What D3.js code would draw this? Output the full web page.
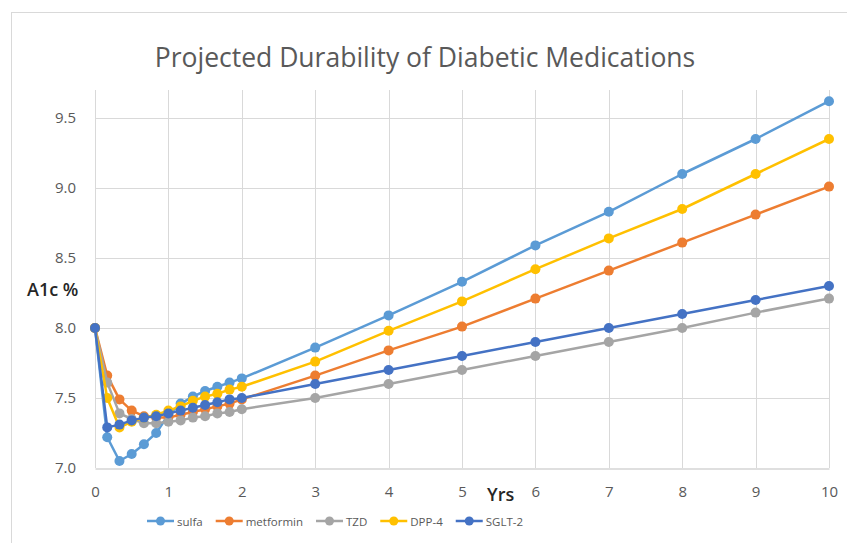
<!DOCTYPE html>
<html>
<head>
<meta charset="utf-8">
<script src="https://cdn.jsdelivr.net/npm/d3@7"></script>
<style>
  body { margin: 0; background: #fff; }
  text { font-family: "Open Sans", "Liberation Sans", sans-serif; }
</style>
</head>
<body>
<div id="chart"></div>
<script>
// Years: every two months for the first two years, then yearly
var years = [0, 1/6, 2/6, 3/6, 4/6, 5/6, 1, 7/6, 8/6, 9/6, 10/6, 11/6, 2, 3, 4, 5, 6, 7, 8, 9, 10];

var seriesNames = ["sulfa", "metformin", "TZD", "DPP-4", "SGLT-2"];
var seriesColors = ["#5B9BD5", "#ED7D31", "#A5A5A5", "#FFC000", "#4472C4"];

var sulfa     = [8.0, 7.22, 7.05, 7.10, 7.17, 7.25, 7.38, 7.46, 7.51, 7.55, 7.58, 7.61, 7.64, 7.86, 8.09, 8.33, 8.59, 8.83, 9.10, 9.35, 9.62];
var metformin = [8.0, 7.66, 7.49, 7.41, 7.37, 7.36, 7.36, 7.38, 7.40, 7.42, 7.44, 7.46, 7.49, 7.66, 7.84, 8.01, 8.21, 8.41, 8.61, 8.81, 9.01];
var tzd       = [8.0, 7.61, 7.39, 7.35, 7.32, 7.32, 7.33, 7.34, 7.36, 7.37, 7.39, 7.40, 7.42, 7.50, 7.60, 7.70, 7.80, 7.90, 8.00, 8.11, 8.21];
var dpp4      = [8.0, 7.50, 7.29, 7.33, 7.36, 7.38, 7.41, 7.44, 7.48, 7.51, 7.53, 7.56, 7.58, 7.76, 7.98, 8.19, 8.42, 8.64, 8.85, 9.10, 9.35];
var sglt2     = [8.0, 7.29, 7.31, 7.34, 7.36, 7.37, 7.39, 7.41, 7.43, 7.45, 7.47, 7.49, 7.50, 7.60, 7.70, 7.80, 7.90, 8.00, 8.10, 8.20, 8.30];

var yTicks = [7.0, 7.5, 8.0, 8.5, 9.0, 9.5];
var xTicks = [0, 1, 2, 3, 4, 5, 6, 7, 8, 9, 10];

var width = 847, height = 543;
var margin = {top: 90, right: 18, bottom: 75, left: 95};
var plotW = 829 - margin.left;
var plotH = 468 - margin.top;

var svg = d3.select("#chart").append("svg")
    .attr("width", width)
    .attr("height", height);

// chart frame (runs off the picture to the right and bottom)
svg.append("rect")
    .attr("x", 11.5).attr("y", 12.5)
    .attr("width", 900).attr("height", 600)
    .attr("fill", "none")
    .attr("stroke", "#d9d9d9");

svg.append("text")
    .attr("x", 425).attr("y", 67)
    .attr("text-anchor", "middle")
    .attr("font-size", 26.5)
    .attr("fill", "#595959")
    .text("Projected Durability of Diabetic Medications");

var chartGroup = svg.append("g")
    .attr("transform", `translate(${margin.left}, ${margin.top})`);

var xScale = d3.scaleLinear().domain([0, 10]).range([0, plotW]);
var yScale = d3.scaleLinear().domain([7, 9.7]).range([plotH, 0]);

// gridlines
chartGroup.append("g")
    .selectAll("line.h")
    .data(yTicks.slice(1))
    .enter().append("line")
    .attr("x1", 0).attr("x2", plotW)
    .attr("y1", d => Math.round(yScale(d)) + 0.5)
    .attr("y2", d => Math.round(yScale(d)) + 0.5)
    .attr("stroke", "#d9d9d9");

chartGroup.append("g")
    .selectAll("line.v")
    .data(xTicks)
    .enter().append("line")
    .attr("y1", 0).attr("y2", plotH)
    .attr("x1", d => Math.round(xScale(d)) + 0.5)
    .attr("x2", d => Math.round(xScale(d)) + 0.5)
    .attr("stroke", "#d9d9d9");

// x axis
var bottomAxis = d3.axisBottom(xScale).tickValues(xTicks).tickSize(0).tickPadding(18);
var xAxis = chartGroup.append("g")
    .attr("transform", `translate(0, ${plotH + 0.5})`)
    .call(bottomAxis);
xAxis.select(".domain").attr("stroke", "#bfbfbf");
xAxis.selectAll("text")
    .attr("font-size", 15)
    .attr("fill", "#595959")
    .style("font-family", "'Open Sans', sans-serif");

// y axis
var leftAxis = d3.axisLeft(yScale).tickValues(yTicks).tickFormat(d3.format(".1f")).tickSize(0).tickPadding(19);
var yAxis = chartGroup.append("g").call(leftAxis);
yAxis.select(".domain").remove();
yAxis.selectAll("text")
    .attr("font-size", 15)
    .attr("fill", "#595959")
    .style("font-family", "'Open Sans', sans-serif");

// axis titles
svg.append("text")
    .attr("x", 27).attr("y", 296)
    .attr("font-size", 18)
    .attr("font-weight", 600)
    .attr("fill", "#262626")
    .text("A1c %");

svg.append("text")
    .attr("x", 487).attr("y", 501)
    .attr("font-size", 18)
    .attr("font-weight", 600)
    .attr("fill", "#262626")
    .text("Yrs");

// series
var allSeries = [sulfa, metformin, tzd, dpp4, sglt2];
var line = d3.line()
    .x((d, i) => xScale(years[i]))
    .y(d => yScale(d));

allSeries.forEach(function(values, s) {
    var g = chartGroup.append("g");
    g.append("path")
        .datum(values)
        .attr("d", line)
        .attr("fill", "none")
        .attr("stroke", seriesColors[s])
        .attr("stroke-width", 2.5)
        .attr("stroke-linejoin", "round");
    g.selectAll("circle")
        .data(values)
        .enter().append("circle")
        .attr("cx", (d, i) => xScale(years[i]))
        .attr("cy", d => yScale(d))
        .attr("r", 5)
        .attr("fill", seriesColors[s]);
});

// legend, items laid out one after another
var legend = svg.append("g").attr("transform", "translate(0, 521)");
var legendPos = 147;
seriesNames.forEach(function(name, s) {
    var item = legend.append("g").attr("transform", `translate(${legendPos}, 0)`);
    item.append("line")
        .attr("x1", 0).attr("x2", 27)
        .attr("stroke", seriesColors[s])
        .attr("stroke-width", 2.5);
    item.append("circle")
        .attr("cx", 13.5).attr("r", 4.5)
        .attr("fill", seriesColors[s]);
    var label = item.append("text")
        .attr("x", 30).attr("y", 4.5)
        .attr("font-size", 11.5)
        .attr("fill", "#595959")
        .text(name);
    legendPos += 30 + label.node().getComputedTextLength() + 13;
});
</script>
</body>
</html>
